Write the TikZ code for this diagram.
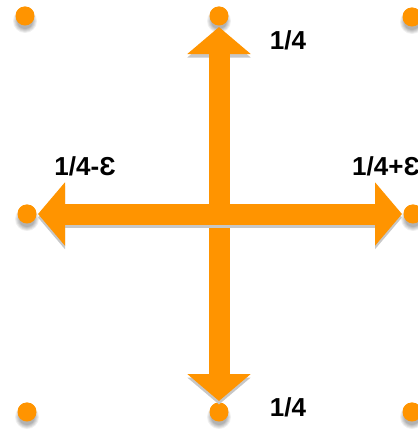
\documentclass[tikz,border=0pt]{standalone}
\usepackage{fontspec}
\setmainfont{Liberation Sans}
\usetikzlibrary{arrows.meta}
\definecolor{org}{RGB}{255,148,0}
\tikzset{
  dot/.style={circle,fill=org,minimum size=19pt,inner sep=0pt,outer sep=0pt},
  bigarrow/.style={draw=org,line width=21pt,
    {Triangle[width=62pt,length=27pt]}-{Triangle[width=62pt,length=27pt]},shorten <=1.5pt,shorten >=1.5pt},
  arrowshadow/.style={draw=black!22,line width=21pt,
    {Triangle[width=62pt,length=27pt]}-{Triangle[width=62pt,length=27pt]},shorten <=11pt,shorten >=11pt},
  lab/.style={font=\bfseries\fontsize{26}{30}\selectfont,inner sep=0pt}
}
\begin{document}
\begin{tikzpicture}[x=1pt,y=-1pt]
\useasboundingbox (0,0) rectangle (418,432);
% dots
\node[dot] (tl) at (25,16) {};
\node[dot] (tm) at (219,16) {};
\node[dot] (tr) at (412,17) {};
\node[dot] (ml) at (27,214) {};
\node[dot] (mr) at (413,214) {};
\node[dot] (bl) at (27,412) {};
\node[dot] (bm) at (219,412) {};
\node[dot] (br) at (412,412) {};
% soft shadows of dots (drawn behind)
\begin{scope}[on background layer/.try]
\end{scope}
\foreach \n in {tl,tm,tr,ml,mr,bl,bm,br}{
  \fill[black!6]  ([yshift=-5pt]\n.center) circle[radius=12];
  \fill[black!12] ([yshift=-5pt]\n.center) circle[radius=11];
  \fill[black!18] ([yshift=-5pt]\n.center) circle[radius=10];
  \fill[black!24] ([yshift=-5pt]\n.center) circle[radius=9];
  \fill[black!30] ([yshift=-5pt]\n.center) circle[radius=8];
  \node[dot] at (\n) {};
}
% shadows of arrows
\draw[arrowshadow] ([yshift=-3.5pt]tm.center) -- ([yshift=-3.5pt]bm.center);
\draw[arrowshadow] ([yshift=-3.5pt]ml.center) -- ([yshift=-3.5pt]mr.center);
% arrows
\draw[bigarrow] (tm) -- (bm);
\draw[draw=black!22,line width=21pt] ([xshift=-10.5pt,yshift=-3.5pt]tm|-ml) -- ([xshift=10.5pt,yshift=-3.5pt]tm|-ml);
\draw[bigarrow] (ml) -- (mr);
% labels
\node[lab] (l1) at (288,40) {1/4};
\node[lab] (l2) at (85,166) {1/4-Ɛ};
\node[lab,anchor=west] (l3) at (352,166) {1/4+Ɛ};
\node[lab] (l4) at (288,407) {1/4};
\end{tikzpicture}
\end{document}
